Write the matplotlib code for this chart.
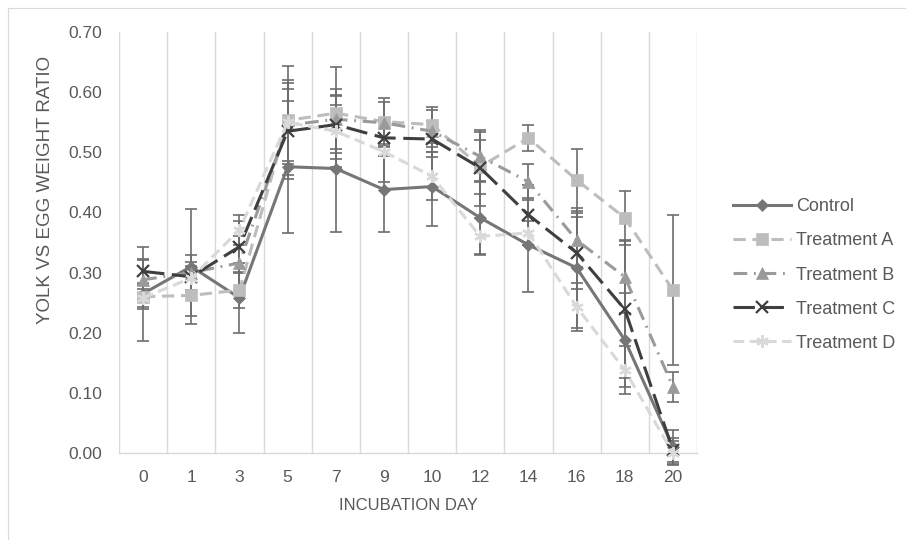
import numpy as np
import matplotlib.pyplot as plt
from matplotlib.patches import Rectangle

plt.rcParams['font.family'] = ['Liberation Sans', 'DejaVu Sans']

days = ['0', '1', '3', '5', '7', '9', '10', '12', '14', '16', '18', '20']

control = [0.265, 0.310, 0.258, 0.476, 0.473, 0.438, 0.443, 0.391, 0.346, 0.308, 0.188, 0.010]
treat_a = [0.260, 0.262, 0.271, 0.553, 0.565, 0.551, 0.546, 0.476, 0.524, 0.454, 0.391, 0.271]
treat_b = [0.288, 0.300, 0.316, 0.545, 0.555, 0.549, 0.535, 0.493, 0.451, 0.354, 0.293, 0.110]
treat_c = [0.302, 0.293, 0.343, 0.535, 0.546, 0.524, 0.522, 0.474, 0.396, 0.333, 0.239, 0.005]
treat_d = [0.258, 0.291, 0.371, 0.550, 0.535, 0.501, 0.460, 0.360, 0.366, 0.243, 0.138, 0.000]

err_control = [0.078, 0.095, 0.058, 0.110, 0.105, 0.070, 0.066, 0.060, 0.078, 0.100, 0.078, 0.028]
err_a = [0.020, 0.035, 0.030, 0.090, 0.076, 0.040, 0.030, 0.045, 0.022, 0.052, 0.045, 0.125]
err_b = [0.033, 0.030, 0.045, 0.060, 0.050, 0.035, 0.035, 0.040, 0.030, 0.045, 0.060, 0.025]
err_c = [0.020, 0.025, 0.043, 0.080, 0.047, 0.030, 0.030, 0.063, 0.050, 0.060, 0.115, 0.020]
err_d = [0.015, 0.020, 0.025, 0.070, 0.060, 0.050, 0.040, 0.030, 0.020, 0.040, 0.040, 0.020]

series = [
    ('Control', control, err_control, '#767676', '-', 'D', 6.5),
    ('Treatment A', treat_a, err_a, '#bdbdbd', (0, (4, 2.2)), 's', 8),
    ('Treatment B', treat_b, err_b, '#9a9a9a', (0, (4.5, 2.2, 0.6, 2.2)), '^', 8),
    ('Treatment C', treat_c, err_c, '#3f3f3f', (0, (7, 2.5)), 'x', 9),
    ('Treatment D', treat_d, err_d, '#d9d9d9', (0, (3.5, 1.8)), (6, 2, 0), 9),
]

fig = plt.figure(figsize=(9.06, 5.4), dpi=100)
# thin frame round the chart area
fig.patches.append(Rectangle((8 / 906, -0.1), 1.2, 1 - 8 / 540 + 0.1, transform=fig.transFigure,
                             fill=False, edgecolor='#d9d9d9', linewidth=0.8))
ax = fig.add_axes([119 / 906, 1 - 453 / 540, (697 - 119) / 906, (453 - 32) / 540])

x = np.arange(len(days))
for name, vals, err, col, ls, mk, ms in series:
    ax.errorbar(x, vals, yerr=err, fmt='none', ecolor='#6d6d6d', elinewidth=1.2,
                capsize=4.5, capthick=1.2, zorder=2, clip_on=False)
for name, vals, err, col, ls, mk, ms in series:
    ax.plot(x, vals, color=col, linestyle=ls, linewidth=2.2, marker=mk, markersize=ms,
            markeredgewidth=1.6 if mk in ('x', (6, 2, 0)) else 0.5, markeredgecolor=col,
            markerfacecolor=col, label=name, zorder=3, clip_on=False)

ax.set_xlim(-0.5, len(days) - 0.5)
ax.set_ylim(0, 0.70)
ax.set_yticks(np.arange(0, 0.71, 0.1))
ax.set_yticklabels(['%.2f' % v for v in np.arange(0, 0.71, 0.1)])
ax.set_xticks(x)
ax.set_xticklabels(days)
ax.set_xticks(np.arange(-0.5, len(days), 1), minor=True)
ax.grid(True, which='minor', axis='x', color='#d9d9d9', linewidth=1)
ax.tick_params(which='both', length=0, colors='#595959', labelsize=12.5)
ax.tick_params(axis='y', pad=12)
ax.tick_params(axis='x', pad=12)
for s in ['top', 'right', 'left']:
    ax.spines[s].set_visible(False)
ax.spines['bottom'].set_color('#d9d9d9')
ax.spines['bottom'].set_linewidth(1)

ax.set_xlabel('INCUBATION DAY', color='#595959', fontsize=12)
ax.xaxis.set_label_coords(0.5, -0.108)
ax.set_ylabel('YOLK VS EGG WEIGHT RATIO', color='#595959', fontsize=13.5)
ax.yaxis.set_label_coords(-0.113, 0.625)

fig.legend(loc='center left', bbox_to_anchor=(733 / 906, 1 - 275 / 540), frameon=False,
           fontsize=13, labelcolor='#595959', handlelength=3.2, labelspacing=0.95,
           handletextpad=0.3, borderpad=0, borderaxespad=0)

fig.savefig('out.png', dpi=100)
